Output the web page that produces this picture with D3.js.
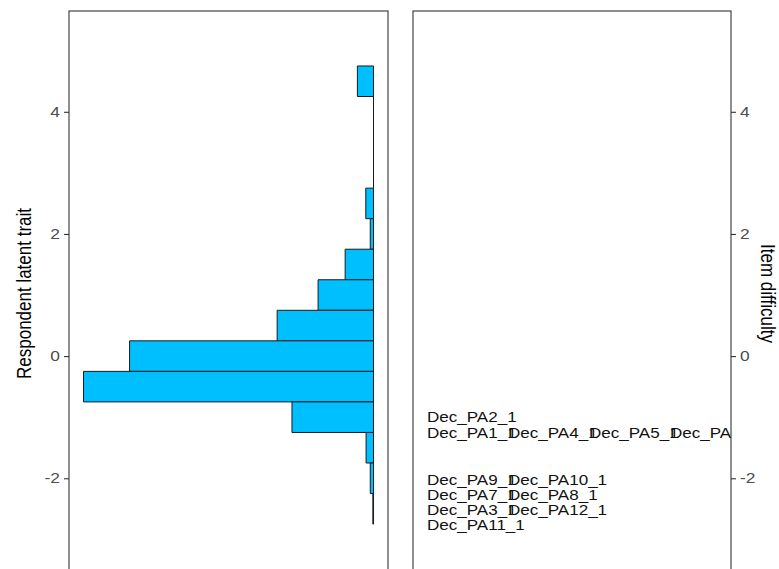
<!DOCTYPE html>
<html>
<head>
	<meta charset="utf-8">
	<title>Wright map</title>
	<script src="https://d3js.org/d3.v7.min.js"></script>
	<style>
		html, body {
			margin: 0;
			background: white;
			overflow: hidden;
		}
		text {
			font-family: "Liberation Sans", Arial, sans-serif;
		}
	</style>
</head>
<body>
	<svg id="svg"></svg>
	<script>
		// respondent latent trait histogram (bin centres, counts)
		const binCentres = [4.5, 4.0, 3.5, 3.0, 2.5, 2.0, 1.5, 1.0, 0.5, 0.0, -0.5, -1.0, -1.5, -2.0, -2.5];
		const binCounts = [5, 0, 0, 0, 2.4, 1, 8.8, 17.2, 29.9, 75.7, 90, 25.3, 2.3, 1, 0.2];
		const binWidth = 0.5;

		// item difficulties, one row per difficulty level
		const itemDifficulty = [-1.0, -1.26, -2.03, -2.27, -2.52, -2.76];
		const itemLabels = [
			["Dec_PA2_1"],
			["Dec_PA1_1", "Dec_PA4_1", "Dec_PA5_1", "Dec_PA6_1"],
			["Dec_PA9_1", "Dec_PA10_1"],
			["Dec_PA7_1", "Dec_PA8_1"],
			["Dec_PA3_1", "Dec_PA12_1"],
			["Dec_PA11_1"]
		];

		const yTicks = [-2, 0, 2, 4];
		const yDomain = [-3.6, 5.65];

		const width = 779, height = 569;
		const stretch = 1.2;
		const leftPanel = {x0: 69, x1: 388};
		const rightPanel = {x0: 413, x1: 731};
		const panelTop = 11, panelBottom = 576;

		const svg = d3.select("#svg")
		.attr("width", width)
		.attr("height", height);

		const scaleY = d3.scaleLinear()
		.domain(yDomain)
		.range([panelBottom, panelTop]);

		const maxCount = d3.max(binCounts);
		const scaleX = d3.scaleLinear()
		.domain([-0.05 * maxCount, 1.05 * maxCount])
		.range([leftPanel.x1, leftPanel.x0]);

		// panels
		[leftPanel, rightPanel].forEach(p => {
			svg.append("rect")
			.attr("x", p.x0)
			.attr("y", panelTop)
			.attr("width", p.x1 - p.x0)
			.attr("height", panelBottom - panelTop)
			.attr("fill", "white")
			.attr("stroke", "#333333")
			.attr("stroke-width", 1.1);
		});

		// histogram (paths so that empty bins still show their outline)
		svg.append("g")
		.selectAll("path")
		.data(binCentres.map((c, i) => ({c: c, n: binCounts[i]})))
		.enter()
		.append("path")
		.attr("d", d => {
			const x0 = scaleX(0), x1 = scaleX(d.n);
			const y0 = scaleY(d.c + binWidth / 2), y1 = scaleY(d.c - binWidth / 2);
			return `M${x0},${y0}H${x1}V${y1}H${x0}Z`;
		})
		.attr("fill", "#00BFFF")
		.attr("stroke", "#1a1a1a")
		.attr("stroke-width", 1);

		// item labels, clipped to the right panel
		svg.append("clipPath")
		.attr("id", "clipRight")
		.append("rect")
		.attr("x", rightPanel.x0)
		.attr("y", panelTop)
		.attr("width", rightPanel.x1 - rightPanel.x0)
		.attr("height", panelBottom - panelTop);

		const labelStart = 427, labelStep = 81;
		const items = [];
		itemLabels.forEach((row, i) => {
			row.forEach((lab, j) => items.push({lab: lab, d: itemDifficulty[i], j: j}));
		});

		svg.append("g")
		.attr("clip-path", "url(#clipRight)")
		.selectAll("text")
		.data(items)
		.enter()
		.append("text")
		.attr("transform", d => `translate(${labelStart + d.j * labelStep}, ${scaleY(d.d)}) scale(${stretch}, 1)`)
		.attr("dy", "0.36em")
		.attr("font-size", 14.2)
		.attr("fill", "#111111")
		.text(d => d.lab);

		// axes
		function styleAxis(g, side) {
			g.select(".domain").remove();
			g.selectAll(".tick line").attr("stroke", "#333333").attr("stroke-width", 1.1);
			g.selectAll(".tick text")
			.attr("font-size", 14.5)
			.attr("font-family", null)
			.attr("fill", "#4d4d4d")
			.attr("x", side * 9 / stretch)
			.attr("transform", `scale(${stretch}, 1)`);
		}

		svg.append("g")
		.attr("transform", `translate(${leftPanel.x0}, 0)`)
		.call(d3.axisLeft(scaleY).tickValues(yTicks).tickSize(5).tickFormat(d => String(d)))
		.call(g => styleAxis(g, -1));

		svg.append("g")
		.attr("transform", `translate(${rightPanel.x1}, 0)`)
		.call(d3.axisRight(scaleY).tickValues(yTicks).tickSize(5).tickFormat(d => String(d)))
		.call(g => styleAxis(g, 1));

		// axis titles
		const midY = (panelTop + panelBottom) / 2;
		svg.append("text")
		.attr("transform", `translate(24, ${midY}) scale(${stretch}, 1) rotate(-90)`)
		.attr("text-anchor", "middle")
		.attr("dy", "0.35em")
		.attr("font-size", 17)
		.attr("fill", "black")
		.text("Respondent latent trait");

		svg.append("text")
		.attr("transform", `translate(768, ${midY}) scale(${stretch}, 1) rotate(90)`)
		.attr("text-anchor", "middle")
		.attr("dy", "0.35em")
		.attr("font-size", 17)
		.attr("fill", "black")
		.text("Item difficulty");
	</script>
</body>
</html>
